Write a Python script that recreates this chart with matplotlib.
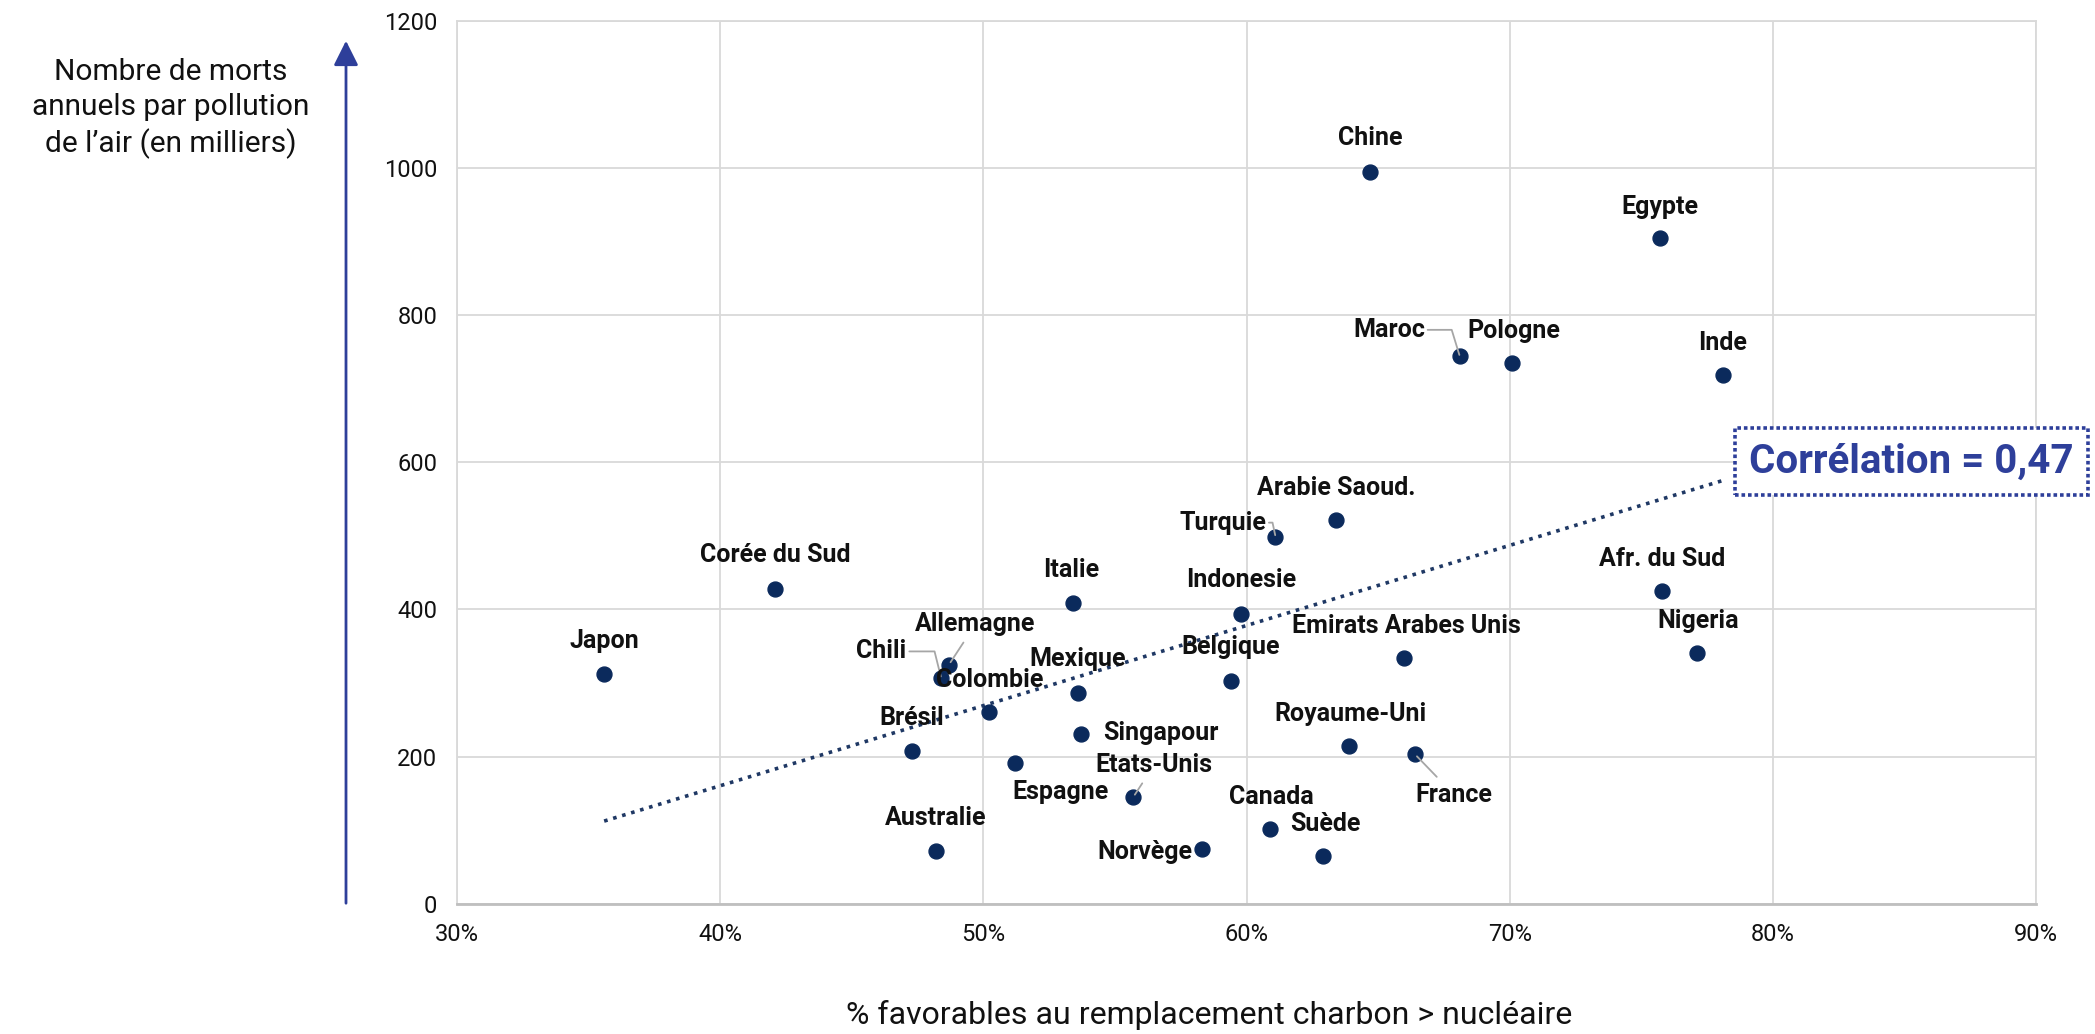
import matplotlib.pyplot as plt
import numpy as np

plt.rcParams['font.family'] = ['Roboto', 'DejaVu Sans']

# Data
countries = ['Japon', 'Corée du Sud', 'Italie', 'Allemagne', 'Chili', 'Colombie',
             'Mexique', 'Brésil', 'Singapour', 'Espagne', 'Australie', 'Etats-Unis',
             'Norvège', 'Canada', 'Suède', 'Belgique', 'Indonesie', 'Turquie',
             'Arabie Saoud.', 'Emirats Arabes Unis', 'Royaume-Uni', 'France',
             'Afr. du Sud', 'Nigeria', 'Chine', 'Egypte', 'Maroc', 'Pologne', 'Inde']
pct_favorables = [35.6, 42.1, 53.4, 48.7, 48.4, 50.2, 53.6, 47.3, 53.7, 51.2, 48.2, 55.7,
                  58.3, 60.9, 62.9, 59.4, 59.8, 61.1, 63.4, 66.0, 63.9, 66.4,
                  75.8, 77.1, 64.7, 75.7, 68.1, 70.1, 78.1]
morts_milliers = [312, 428, 408, 325, 307, 261, 287, 207, 230, 191, 71, 145,
                  74, 102, 65, 303, 394, 499, 521, 334, 214, 203,
                  425, 341, 995, 904, 744, 735, 719]

x_ticks = [30, 40, 50, 60, 70, 80, 90]
y_ticks = [0, 200, 400, 600, 800, 1000, 1200]

# label offsets (points) relative to each dot
offsets = {
    'Japon': (0, 24), 'Corée du Sud': (0, 24), 'Italie': (-1, 24), 'Allemagne': (19, 29),
    'Chili': (-43, 19), 'Colombie': (1, 23), 'Mexique': (0, 24), 'Brésil': (0, 24),
    'Singapour': (58, 1), 'Espagne': (33, -21), 'Australie': (0, 24), 'Etats-Unis': (15, 23),
    'Norvège': (-41, -2), 'Canada': (1, 23), 'Suède': (2, 23), 'Belgique': (0, 24),
    'Indonesie': (0, 24), 'Turquie': (-38, 10), 'Arabie Saoud.': (0, 23),
    'Emirats Arabes Unis': (1, 23), 'Royaume-Uni': (1, 23), 'France': (28, -29),
    'Afr. du Sud': (0, 23), 'Nigeria': (1, 23), 'Chine': (0, 24), 'Egypte': (0, 23),
    'Maroc': (-51, 19), 'Pologne': (1, 23), 'Inde': (0, 23),
}
# leader lines: angled ones go horizontal from the label, then down to the dot
angled = {'Maroc': 107, 'Turquie': 102, 'Chili': 104}
straight = ['Allemagne', 'Etats-Unis', 'France']

dot_colour = '#0B2A5C'
blue = '#2E3F9A'
grid_colour = '#D9D9D9'

fig = plt.figure(figsize=(20.95, 10.34), dpi=100)
ax = fig.add_axes([0.218, 0.126, 0.754, 0.854])

ax.scatter(pct_favorables, morts_milliers, s=115, color=dot_colour, zorder=3)

# linear trend line over the data range
slope, intercept = np.polyfit(pct_favorables, morts_milliers, 1)
xs = np.array([min(pct_favorables), max(pct_favorables)])
ax.plot(xs, slope * xs + intercept, linestyle=(0, (1, 1.6)), color='#1F3864', lw=2.6, zorder=2)

for name, x, y in zip(countries, pct_favorables, morts_milliers):
    dx, dy = offsets[name]
    props = None
    if name in angled:
        props = dict(arrowstyle='-', color='#A6A6A6', lw=1.3, shrinkA=0, shrinkB=1,
                     connectionstyle=f'angle,angleA=0,angleB={angled[name]},rad=0')
    elif name in straight:
        props = dict(arrowstyle='-', color='#A6A6A6', lw=1.3, shrinkA=3, shrinkB=2)
    ax.annotate(name, (x, y), xytext=(dx, dy), textcoords='offset points',
                ha='center', va='center', fontsize=18, fontweight='bold',
                color='#111111', arrowprops=props, zorder=4)

ax.set_xlim(30, 90)
ax.set_ylim(0, 1200)
ax.set_xticks(x_ticks)
ax.set_xticklabels([f'{t}%' for t in x_ticks])
ax.set_yticks(y_ticks)
ax.tick_params(axis='both', length=0, labelsize=17, pad=14, colors='#111111')
ax.grid(True, color=grid_colour, lw=1.3)
ax.set_axisbelow(True)
for side in ['top', 'right', 'left']:
    ax.spines[side].set_color(grid_colour)
    ax.spines[side].set_linewidth(1.3)
ax.spines['bottom'].set_color('#BFBFBF')
ax.spines['bottom'].set_linewidth(2)

# axis titles
fig.text(0.0815, 0.895, "Nombre de morts\nannuels par pollution\nde l’air (en milliers)",
         ha='center', va='center', fontsize=21.5, linespacing=1.32, color='#111111')
fig.text(0.577, 0.018, '% favorables au remplacement charbon > nucléaire',
         ha='center', va='center', fontsize=23, color='#111111')

# vertical arrow on the left
fig.patches.append(plt.matplotlib.patches.FancyArrowPatch(
    (346 / 2095, 1 - 906 / 1034), (346 / 2095, 1 - 38 / 1034), transform=fig.transFigure,
    arrowstyle='-|>,head_length=10,head_width=5', color=blue, lw=2.0, mutation_scale=1.5))

# correlation box
fig.text(0.9125, 0.5536, 'Corrélation = 0,47', ha='center', va='center', fontsize=29,
         fontweight='bold', color=blue,
         bbox=dict(boxstyle='square,pad=0.36', facecolor='white', edgecolor=blue,
                   linestyle=(0, (1, 0.8)), lw=2.6))

fig.savefig('out.png', dpi=100, facecolor='white')
